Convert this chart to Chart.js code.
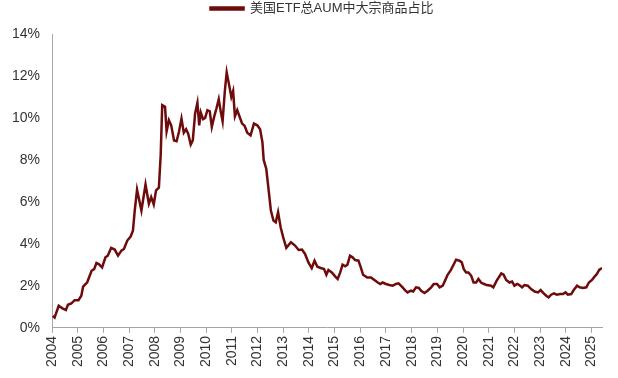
<!DOCTYPE html>
<html>
<head>
<meta charset="utf-8">
<script src="https://cdn.jsdelivr.net/npm/chart.js@4"></script>
<style>
  html, body { margin: 0; padding: 0; background: #fff; }
  #wrap { width: 618px; height: 378px; position: relative; }
</style>
</head>
<body>
<div id="wrap"><canvas id="chart"></canvas></div>
<script>
'use strict';

const seriesLabel = '美国ETF总AUM中大宗商品占比';

// 时间（按年的小数表示），读图估计
const dates = [
  2004.03, 2004.1, 2004.26, 2004.39, 2004.54, 2004.62, 2004.75, 2004.88,
  2005.03, 2005.14, 2005.21, 2005.37, 2005.54, 2005.64, 2005.73, 2005.82, 2005.95,
  2006.08, 2006.17, 2006.3, 2006.44, 2006.57, 2006.7, 2006.8, 2006.93,
  2007.06, 2007.15, 2007.22, 2007.31, 2007.48, 2007.64, 2007.77, 2007.86, 2007.96,
  2008.05, 2008.16, 2008.23, 2008.29, 2008.4, 2008.46, 2008.55, 2008.64, 2008.75, 2008.85, 2008.94,
  2009.04, 2009.13, 2009.22, 2009.3, 2009.4, 2009.48, 2009.57, 2009.66, 2009.73, 2009.79, 2009.88, 2009.96,
  2010.05, 2010.14, 2010.22, 2010.31, 2010.4, 2010.49, 2010.57, 2010.64, 2010.73, 2010.8, 2010.89, 2010.98,
  2011.05, 2011.12, 2011.21, 2011.32, 2011.4, 2011.5, 2011.6, 2011.73, 2011.86, 2011.99,
  2012.1, 2012.19, 2012.24, 2012.34, 2012.42, 2012.52, 2012.62, 2012.71, 2012.8, 2012.9,
  2013.0, 2013.12, 2013.3, 2013.46, 2013.6, 2013.73, 2013.85, 2013.98,
  2014.11, 2014.22, 2014.33, 2014.46, 2014.59, 2014.68, 2014.76, 2014.89,
  2015.03, 2015.12, 2015.22, 2015.31, 2015.41, 2015.5, 2015.6, 2015.7, 2015.8, 2015.93,
  2016.02, 2016.11, 2016.27, 2016.42, 2016.55, 2016.68, 2016.78, 2016.87,
  2017.0, 2017.13, 2017.26, 2017.39, 2017.49, 2017.62, 2017.74, 2017.84, 2017.97,
  2018.06, 2018.17, 2018.28, 2018.37, 2018.5, 2018.62, 2018.76, 2018.86, 2018.99,
  2019.09, 2019.21, 2019.3, 2019.4, 2019.53, 2019.63, 2019.73, 2019.86, 2019.95,
  2020.03, 2020.12, 2020.21, 2020.32, 2020.41, 2020.51, 2020.6, 2020.7, 2020.8, 2020.92,
  2021.09, 2021.18, 2021.31, 2021.49, 2021.58, 2021.68, 2021.81, 2021.91,
  2022.0, 2022.11, 2022.19, 2022.3, 2022.39, 2022.52, 2022.65, 2022.79, 2022.92,
  2023.02, 2023.14, 2023.24, 2023.33, 2023.43, 2023.54, 2023.65, 2023.78, 2023.89, 2023.99,
  2024.08, 2024.21, 2024.31, 2024.44, 2024.54, 2024.67, 2024.8, 2024.9,
  2025.02, 2025.12, 2025.21, 2025.3, 2025.41,
];

// 大宗商品占比（%）
const shares = [
  0.57, 0.49, 1.05, 0.94, 0.85, 1.10, 1.16, 1.32,
  1.32, 1.53, 1.96, 2.17, 2.72, 2.80, 3.09, 3.04, 2.88,
  3.36, 3.44, 3.81, 3.73, 3.44, 3.68, 3.76, 4.16,
  4.35, 4.63, 5.59, 6.58, 5.59, 6.83, 5.91, 6.23, 5.88,
  6.55, 6.68, 8.22, 10.61, 10.53, 9.36, 9.89, 9.65, 8.93, 8.89, 9.33,
  9.97, 9.30, 9.46, 9.25, 8.73, 8.93, 10.21, 10.72, 9.65, 10.26, 9.94, 10.0,
  10.37, 10.32, 9.57, 10.05, 10.45, 10.89, 10.29, 9.84, 11.32, 12.17, 11.6, 11.0,
  11.28, 10.08, 10.37, 10.0, 9.73, 9.62, 9.30, 9.17, 9.73, 9.65,
  9.46, 8.85, 8.0, 7.58, 6.70, 5.59, 5.11, 5.03, 5.51, 4.79,
  4.31, 3.81, 4.08, 3.92, 3.71, 3.73, 3.52, 3.12,
  2.85, 3.20, 2.91, 2.85, 2.80, 2.53, 2.76, 2.64,
  2.44, 2.33, 2.64, 3.01, 2.93, 3.01, 3.44, 3.36, 3.23, 3.20,
  2.88, 2.53, 2.40, 2.40, 2.28, 2.16, 2.09, 2.16,
  2.09, 2.04, 2.01, 2.09, 2.12, 1.96, 1.80, 1.69, 1.77,
  1.73, 1.93, 1.90, 1.77, 1.66, 1.77, 1.93, 2.09, 2.09,
  1.93, 2.01, 2.25, 2.53, 2.76, 3.01, 3.25, 3.20, 3.12,
  2.80, 2.64, 2.64, 2.48, 2.16, 2.16, 2.33, 2.16, 2.10, 2.04,
  2.01, 1.93, 2.25, 2.59, 2.53, 2.28, 2.16, 2.21,
  2.01, 2.09, 2.04, 1.93, 2.04, 2.01, 1.85, 1.73, 1.69,
  1.80, 1.64, 1.53, 1.45, 1.58, 1.64, 1.58, 1.61, 1.61, 1.69,
  1.58, 1.61, 1.80, 2.01, 1.93, 1.90, 1.93, 2.16,
  2.28, 2.44, 2.56, 2.76, 2.85,
];

// 坐标轴刻度
const xYears = [
  2004, 2005, 2006, 2007, 2008, 2009, 2010, 2011, 2012, 2013, 2014,
  2015, 2016, 2017, 2018, 2019, 2020, 2021, 2022, 2023, 2024, 2025,
];
const yTicks = [0, 2, 4, 6, 8, 10, 12, 14];

const lineColor = '#6E0B0B';
const axisColor = '#A6A6A6';
const textColor = '#333';
const fontFamily = "Arial, 'Liberation Sans', 'Noto Sans CJK SC', sans-serif";

const points = dates.map((d, i) => ({ x: d, y: shares[i] }));

// 图例：下方留出间距，并稍向右移
const legendTweak = {
  id: 'legendTweak',
  beforeInit(chart) {
    const fit = chart.legend.fit;
    chart.legend.fit = function () {
      fit.bind(chart.legend)();
      this.height += 9;
    };
  },
  afterLayout(chart) {
    chart.legend.left += 21;
    chart.legend.right += 21;
  },
};

const ctx = document.getElementById('chart').getContext('2d');
new Chart(ctx, {
  type: 'line',
  data: {
    datasets: [
      {
        label: seriesLabel,
        data: points,
        borderColor: lineColor,
        backgroundColor: lineColor,
        borderWidth: 2.5,
        pointRadius: 0,
        tension: 0,
        fill: false,
      },
    ],
  },
  plugins: [legendTweak],
  options: {
    responsive: true,
    maintainAspectRatio: false,
    animation: false,
    layout: { padding: { left: 0, right: 16, top: 0, bottom: 8 } },
    plugins: {
      legend: {
        display: true,
        position: 'top',
        labels: {
          boxWidth: 33,
          boxHeight: 2,
          padding: 2,
          color: textColor,
          font: { family: fontFamily, size: 13 },
        },
      },
      tooltip: { enabled: false },
    },
    scales: {
      x: {
        type: 'linear',
        min: xYears[0],
        max: dates[dates.length - 1],
        afterBuildTicks: axis => {
          axis.ticks = xYears.map(v => ({ value: v }));
        },
        ticks: {
          autoSkip: false,
          minRotation: 90,
          maxRotation: 90,
          padding: 3,
          color: textColor,
          font: { family: fontFamily, size: 14 },
          callback: v => String(v),
        },
        grid: { drawOnChartArea: false, drawTicks: true, tickLength: 5, color: axisColor },
        border: { color: axisColor, width: 1 },
      },
      y: {
        min: yTicks[0],
        max: yTicks[yTicks.length - 1],
        afterBuildTicks: axis => {
          axis.ticks = yTicks.map(v => ({ value: v }));
        },
        ticks: {
          padding: 12,
          color: textColor,
          font: { family: fontFamily, size: 14 },
          callback: v => `${v}%`,
        },
        grid: { drawOnChartArea: false, drawTicks: false },
        border: { color: axisColor, width: 1 },
      },
    },
  },
});
</script>
</body>
</html>
